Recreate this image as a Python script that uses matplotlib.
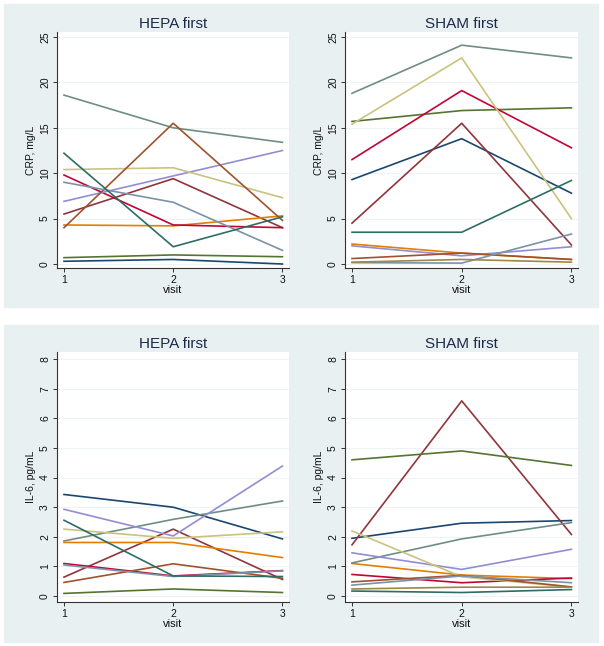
import numpy as np
import matplotlib.pyplot as plt
from matplotlib.patches import Rectangle

plt.rcParams['font.family'] = ['Liberation Sans', 'DejaVu Sans']

# Stata s2color line palette
palette = ['#1a476f', '#90353b', '#55752f', '#e37e00', '#6e8e84', '#c10534',
           '#938dd2', '#cac27e', '#a0522d', '#7b92a8', '#2d6d66', '#9c8847']

visits = [1, 2, 3]

# CRP, mg/L -- HEPA first (one list per subject)
crp_hepa = [
    [0.3, 0.5, 0.0],
    [5.5, 9.4, 4.0],
    [0.7, 1.0, 0.8],
    [4.3, 4.2, 5.3],
    [18.6, 15.0, 13.4],
    [9.8, 4.3, 4.0],
    [6.9, 9.7, 12.5],
    [10.4, 10.6, 7.3],
    [4.0, 15.5, 4.8],
    [9.0, 6.8, 1.5],
    [12.2, 1.9, 5.2],
]

# CRP, mg/L -- SHAM first
crp_sham = [
    [9.3, 13.8, 7.8],
    [4.5, 15.5, 2.1],
    [15.7, 16.9, 17.2],
    [2.2, 1.2, 0.5],
    [18.8, 24.1, 22.7],
    [11.5, 19.1, 12.8],
    [2.0, 0.9, 1.9],
    [15.4, 22.7, 5.0],
    [0.6, 1.2, 0.5],
    [0.15, 0.1, 3.3],
    [3.5, 3.5, 9.2],
    [0.2, 0.5, 0.2],
]

# IL-6, pg/mL -- HEPA first
il6_hepa = [
    [3.43, 3.0, 1.93],
    [0.64, 2.26, 0.56],
    [0.09, 0.24, 0.12],
    [1.81, 1.81, 1.30],
    [1.86, 2.59, 3.21],
    [1.10, 0.68, 0.86],
    [2.93, 2.03, 4.39],
    [2.26, 1.95, 2.17],
    [0.46, 1.09, 0.60],
    [1.05, 0.66, 0.85],
    [2.56, 0.68, 0.66],
]

# IL-6, pg/mL -- SHAM first
il6_sham = [
    [1.95, 2.46, 2.55],
    [1.73, 6.59, 2.08],
    [4.60, 4.90, 4.41],
    [1.10, 0.71, 0.59],
    [1.12, 1.93, 2.48],
    [0.73, 0.45, 0.61],
    [1.46, 0.90, 1.58],
    [2.20, 0.65, 0.30],
    [0.48, 0.70, 0.31],
    [0.37, 0.68, 0.45],
    [0.17, 0.12, 0.22],
    [0.24, 0.30, 0.30],
]

W, H = 604, 646
fig = plt.figure(figsize=(W / 100, H / 100), dpi=100)
fig.patch.set_facecolor('white')

def box(l, t, r, b):
    return [l / W, 1 - b / H, (r - l) / W, (b - t) / H]

# light graph-region panels behind each pair of plots
for t, b in [(4, 307), (325, 642)]:
    fig.patches.append(Rectangle((4 / W, 1 - b / H), 594 / W, (b - t) / H,
                                 transform=fig.transFigure, color='#e9f0f2', zorder=-10))

panels = [
    (crp_hepa, 'HEPA first', 'CRP, mg/L', (57, 32, 289, 268), (-0.44, 25.55), range(0, 26, 5)),
    (crp_sham, 'SHAM first', 'CRP, mg/L', (345, 32, 578, 268), (-0.44, 25.55), range(0, 26, 5)),
    (il6_hepa, 'HEPA first', 'IL-6, pg/mL', (57, 352, 289, 602), (-0.2, 8.24), range(0, 9)),
    (il6_sham, 'SHAM first', 'IL-6, pg/mL', (345, 352, 578, 602), (-0.2, 8.24), range(0, 9)),
]

for data, title, ylab, pos, ylim, yt in panels:
    ax = fig.add_axes(box(*pos))
    ax.set_zorder(5)
    ax.set_facecolor('white')
    for i, series in enumerate(data):
        ax.plot(visits, series, color=palette[i], lw=1.2, zorder=3)
    ax.set_xlim(0.936, 3.06)
    ax.set_ylim(*ylim)
    ax.set_xticks(visits)
    ax.set_yticks(list(yt))
    ax.grid(axis='y', color='#eef3f5', lw=0.8, zorder=1)
    for s in ['top', 'right']:
        ax.spines[s].set_visible(False)
    for s in ['left', 'bottom']:
        ax.spines[s].set_color('#333333')
        ax.spines[s].set_linewidth(0.8)
    ax.tick_params(axis='both', labelsize=7.5, length=3, width=0.7, color='#333333',
                   labelcolor='#111111', pad=2)
    for lab in ax.get_yticklabels():
        lab.set_rotation(90)
        lab.set_va('center')
    ax.set_xlabel('visit', fontsize=8, labelpad=0, color='#111111')
    ax.set_ylabel(ylab, fontsize=7.5, labelpad=3, color='#111111')
    ax.set_title(title, fontsize=11, color='#1e2a4a', pad=3)

fig.savefig('out.png', dpi=100, facecolor='white')
